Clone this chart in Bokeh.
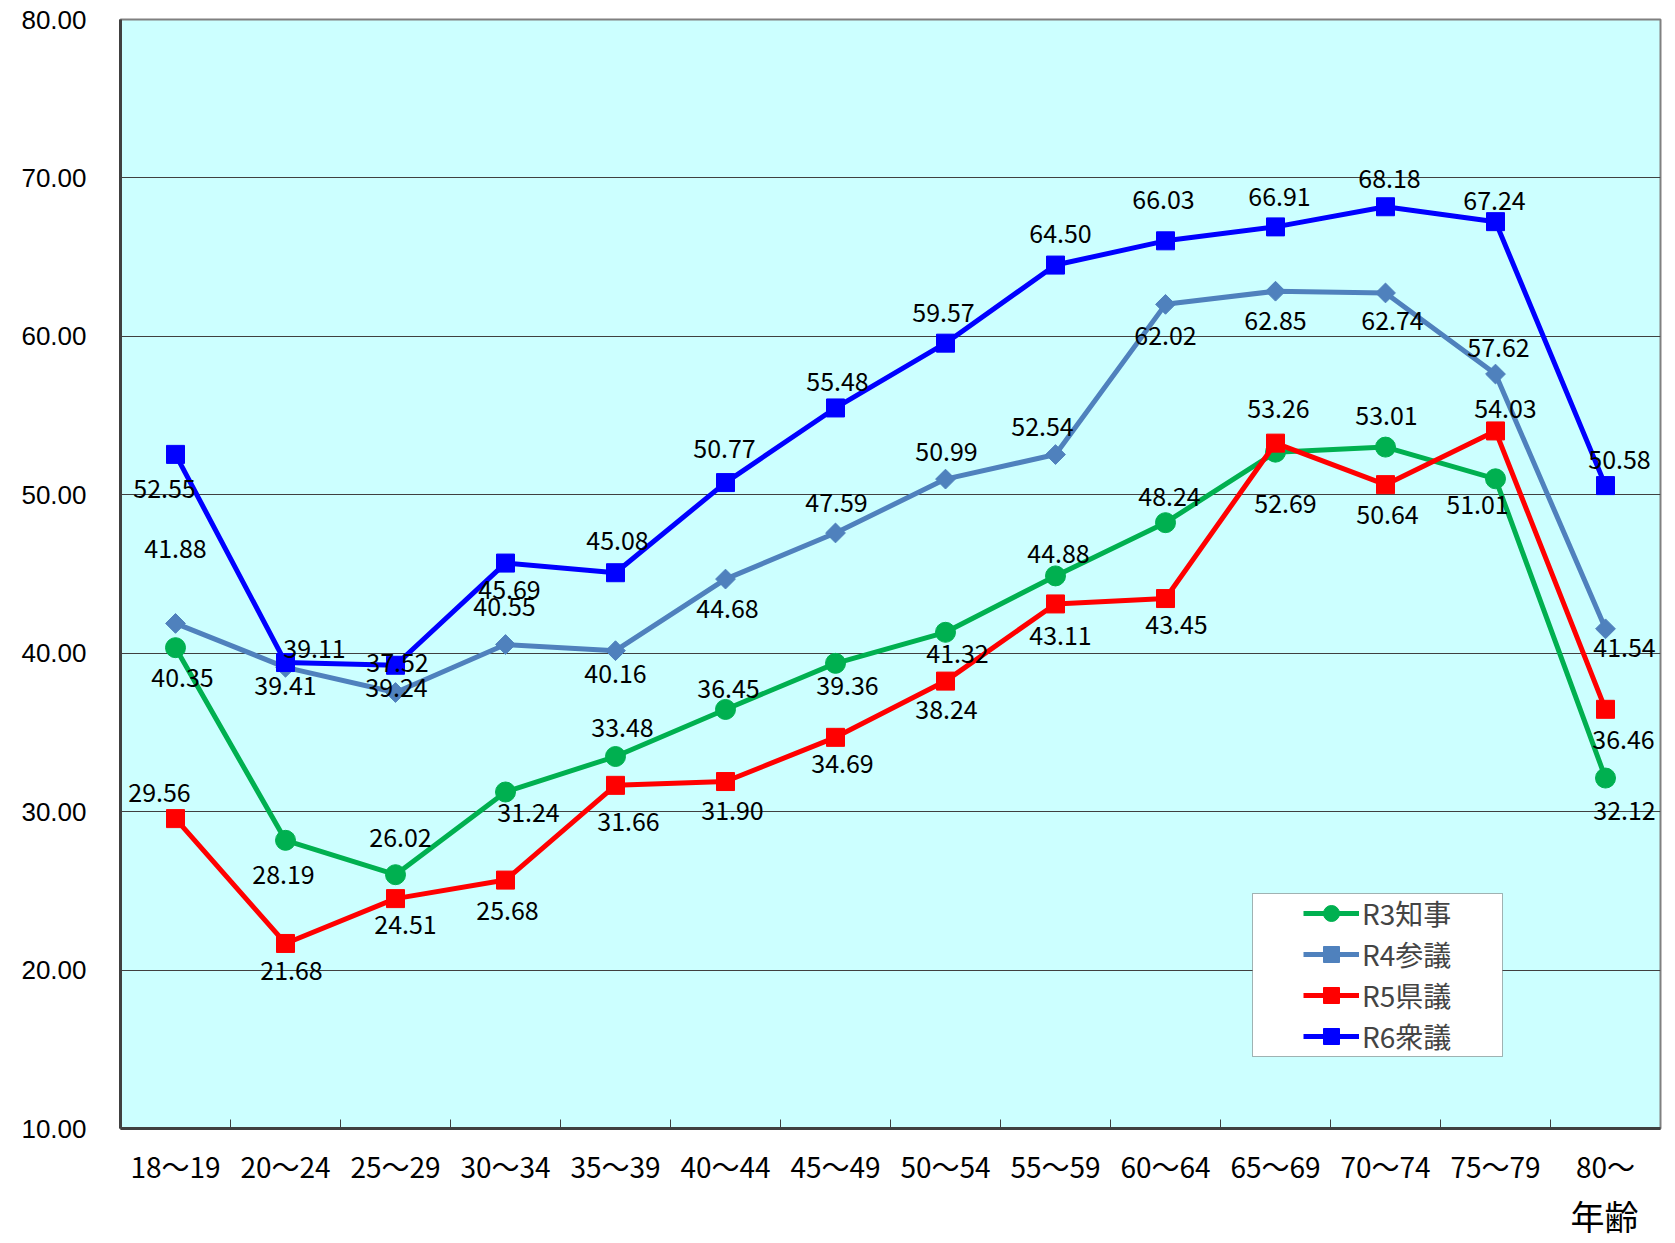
import numpy as np
from bokeh.plotting import figure
from bokeh.layouts import column
from bokeh.models import (Range1d, FixedTicker, PrintfTickFormatter, Legend, LegendItem,
                          BoxAnnotation, ColumnDataSource)
from bokeh.core.properties import value
from bokeh.embed import file_html
from bokeh.resources import INLINE

# ---------------- data ----------------
categories = ["18～19", "20～24", "25～29", "30～34", "35～39", "40～44", "45～49",
              "50～54", "55～59", "60～64", "65～69", "70～74", "75～79", "80～"]
r3_chiji = [40.35, 28.19, 26.02, 31.24, 33.48, 36.45, 39.36, 41.32, 44.88, 48.24, 52.69, 53.01, 51.01, 32.12]
r4_sangi = [41.88, 39.11, 37.52, 40.55, 40.16, 44.68, 47.59, 50.99, 52.54, 62.02, 62.85, 62.74, 57.62, 41.54]
r5_kengi = [29.56, 21.68, 24.51, 25.68, 31.66, 31.90, 34.69, 38.24, 43.11, 43.45, 53.26, 50.64, 54.03, 36.46]
r6_shugi = [52.55, 39.41, 39.24, 45.69, 45.08, 50.77, 55.48, 59.57, 64.50, 66.03, 66.91, 68.18, 67.24, 50.58]
series_names = ["R3知事", "R4参議", "R5県議", "R6衆議"]
y_ticks = [10, 20, 30, 40, 50, 60, 70, 80]
x_axis_title = "年齢"

# ---------------- label placement (screen px offsets, styling only) ----------------
r3_dx = [7, -2, 5, 23, 7, 3, 12, 12, 3, 4, 10, 1, -18, 19]
r3_dy = [30, 34, -37, 21, -29, -21, 22, 21, -22, -26, 51, -32, 26, 32]
r4_dx = [0, 29, 2, -1, 0, 2, 1, 1, -13, 0, 0, 7, 3, 19]
r4_dy = [-75, -19, -30, -38, 23, 29, -30, -28, -28, 31, 29, 28, -27, 19]
r5_dx = [-16, 6, 10, 2, 13, 7, 7, 1, 5, 11, 3, 2, 10, 18]
r5_dy = [-26, 27, 26, 30, 36, 29, 26, 28, 32, 26, -35, 30, -22, 30]
r6_dx = [-11, 0, 1, 4, 2, -1, 2, -2, 5, -2, 4, 4, -1, 14]
r6_dy = [34, 23, 22, 26, -32, -34, -26, -31, -32, -41, -30, -28, -21, -26]

xs = list(range(1, len(categories) + 1))
W = 1672

p = figure(width=W, height=1190, output_backend="svg", toolbar_location=None,
           x_range=Range1d(0.5, len(categories) + 0.5), y_range=Range1d(10, 80),
           min_border_left=120, min_border_right=12, min_border_top=19, min_border_bottom=62,
           background_fill_color="#CCFFFF", border_fill_color="white")

p.outline_line_color = "#808080"
p.outline_line_width = 2

p.xgrid.visible = False
p.ygrid.ticker = FixedTicker(ticks=y_ticks)
p.ygrid.grid_line_color = "#404040"
p.ygrid.grid_line_width = 1

# x axis
xa = p.xaxis[0]
xa.ticker = FixedTicker(ticks=xs, minor_ticks=[x + 0.5 for x in xs[:-1]])
xa.major_label_overrides = {x: c for x, c in zip(xs, categories)}
xa.major_tick_in = 0
xa.major_tick_out = 0
xa.minor_tick_in = 9
xa.minor_tick_out = 0
xa.minor_tick_line_color = "#404040"
xa.minor_tick_line_width = 1
xa.axis_line_color = "#404040"
xa.axis_line_width = 3
xa.major_label_text_font = "Noto Sans CJK JP"
xa.major_label_text_font_size = "28px"
xa.major_label_text_color = "black"
xa.major_label_standoff = 17

# y axis
ya = p.yaxis[0]
ya.ticker = FixedTicker(ticks=y_ticks)
ya.formatter = PrintfTickFormatter(format="%.2f")
ya.major_tick_in = 0
ya.major_tick_out = 0
ya.minor_tick_line_color = None
ya.axis_line_color = "#404040"
ya.axis_line_width = 3
ya.major_label_text_font = "Liberation Sans"
ya.major_label_text_font_size = "26px"
ya.major_label_text_color = "black"
ya.major_label_standoff = 34

series = [
    (r3_chiji, "#00B050", dict(marker="circle", size=20), r3_dx, r3_dy),
    (r4_sangi, "#4F81BD", dict(marker="square", size=14, angle=np.pi / 4), r4_dx, r4_dy),
    (r5_kengi, "#FF0000", dict(marker="square", size=18), r5_dx, r5_dy),
    (r6_shugi, "#0000FF", dict(marker="square", size=18), r6_dx, r6_dy),
]

items = []
for (vals, color, mk, dx, dy), name in zip(series, series_names):
    lr = p.line(xs, vals, line_color=color, line_width=5)
    sr = p.scatter(xs, vals, fill_color=color, line_color=color, **mk)
    items.append(LegendItem(label=name, renderers=[lr, sr]))

for vals, color, mk, dx, dy in series:
    src = ColumnDataSource(dict(x=xs, y=vals, t=[f"{v:.2f}" for v in vals], dx=dx, dy=dy))
    p.text(x="x", y="y", text="t", x_offset="dx", y_offset="dy", source=src,
           text_font=value("Noto Sans CJK JP"), text_font_size=value("25px"),
           text_align="center", text_baseline="middle", text_color="black")

box = BoxAnnotation(left=1132, right=1382, bottom=72, top=235,
                    left_units="screen", right_units="screen",
                    bottom_units="screen", top_units="screen",
                    fill_color="white", fill_alpha=1.0, line_color="black", line_width=1)
p.add_layout(box)

legend = Legend(items=items, location=(1183, 72), padding=0, spacing=1, margin=0,
                label_height=40, glyph_height=40, glyph_width=56, label_standoff=3,
                label_text_font="Noto Sans CJK JP", label_text_font_size="28px",
                label_text_baseline="middle",
                background_fill_alpha=0, border_line_alpha=0)
p.add_layout(legend)

# strip below the chart holding the x-axis title
p2 = figure(width=W, height=50, output_backend="svg", toolbar_location=None,
            x_range=p.x_range, y_range=Range1d(0, 1),
            x_axis_type=None, y_axis_type=None,
            min_border_left=120, min_border_right=12, min_border_top=0, min_border_bottom=0,
            background_fill_color="white", border_fill_color="white")
p2.outline_line_color = None
p2.grid.visible = False
p2.text(x=[xs[-1]], y=[0.5], text=[x_axis_title], x_offset=-1,
        text_font=value("Noto Sans CJK JP"), text_font_size=value("34px"),
        text_align="center", text_baseline="middle", text_color="black")

layout = column(p, p2, spacing=0)
open("out.html", "w").write(file_html(layout, INLINE))
